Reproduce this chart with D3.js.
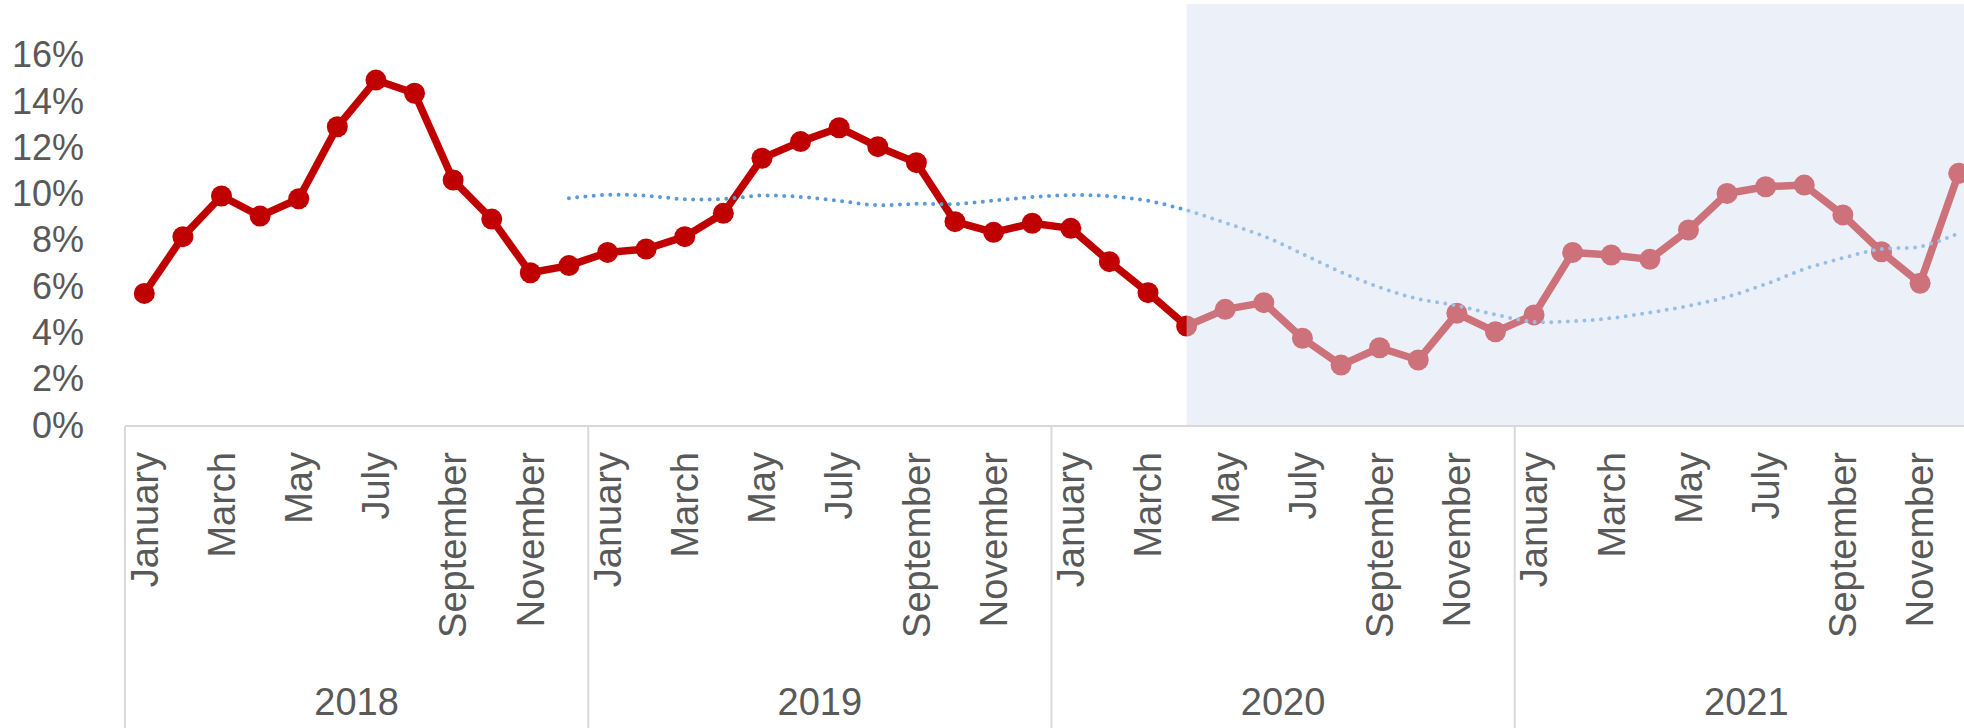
<!DOCTYPE html>
<html>
<head>
<meta charset="utf-8">
<script src="https://cdn.jsdelivr.net/npm/d3@7"></script>
<style>
  body { margin: 0; background: #fff; }
  svg text { font-family: "Liberation Sans", Arial, sans-serif; fill: #595959; }
</style>
</head>
<body>
<script>
// data
var years = ["2018", "2019", "2020", "2021"];
var monthNames = ["January", "February", "March", "April", "May", "June",
    "July", "August", "September", "October", "November", "December"];

var values2018 = [5.71, 8.16, 9.92, 9.05, 9.80, 12.91, 14.93, 14.36, 10.61, 8.92, 6.60, 6.91];
var values2019 = [7.48, 7.63, 8.16, 9.17, 11.55, 12.27, 12.87, 12.05, 11.36, 8.81, 8.35, 8.74];
var values2020 = [8.52, 7.08, 5.74, 4.30, 5.02, 5.31, 3.77, 2.61, 3.36, 2.83, 4.85, 4.05];
var values2021 = [4.78, 7.48, 7.37, 7.18, 8.45, 10.03, 10.32, 10.39, 9.10, 7.51, 6.15, 10.90];

// dotted trend, starts at December 2018
var trendStart = 11;
var trendValues = [9.82, 9.97, 9.93, 9.78, 9.79, 9.94, 9.88, 9.71, 9.52, 9.58, 9.57, 9.72,
    9.87, 9.96, 9.91, 9.71, 9.30, 8.76, 8.18, 7.42, 6.63, 5.97, 5.47, 5.18,
    4.79, 4.48, 4.51, 4.64, 4.88, 5.17, 5.56, 6.11, 6.76, 7.24, 7.63, 7.73, 8.31];

var yTicks = [0, 2, 4, 6, 8, 10, 12, 14, 16];
var shadeFrom = "2020-3"; // April 2020 onwards

var width = 1964, height = 728;
var plot = { left: 125, right: 1978, top: 4, bottom: 426 };

var data = [];
[values2018, values2019, values2020, values2021].forEach(function (vals, yi) {
    vals.forEach(function (v, m) {
        data.push({ key: years[yi] + "-" + m, year: years[yi], month: m, value: v / 100 });
    });
});

var svg = d3.select("body").append("svg")
    .attr("width", width)
    .attr("height", height);

var x = d3.scaleBand()
    .domain(data.map(d => d.key))
    .range([plot.left, plot.right])
    .padding(0);

var y = d3.scaleLinear()
    .domain([0, 0.16])
    .range([425.5, 55.3]);

var cx = d => x(d.key) + x.bandwidth() / 2;

// y axis labels only
var yAxis = svg.append("g")
    .attr("transform", "translate(" + plot.left + ",0)")
    .call(d3.axisLeft(y)
        .tickValues(yTicks.map(t => t / 100))
        .tickFormat(d3.format(".0%"))
        .tickSize(0)
        .tickPadding(41));
yAxis.select(".domain").remove();
yAxis.selectAll("text")
    .style("font-size", "36px")
    .style("font-family", "'Liberation Sans', Arial, sans-serif")
    .attr("fill", "#595959");

// category axis: baseline + year separators
svg.append("line")
    .attr("x1", plot.left).attr("x2", width)
    .attr("y1", plot.bottom).attr("y2", plot.bottom)
    .attr("stroke", "#d9d9d9").attr("stroke-width", 2);

svg.append("g").selectAll("line")
    .data(years)
    .join("line")
    .attr("x1", d => x(d + "-0")).attr("x2", d => x(d + "-0"))
    .attr("y1", plot.bottom).attr("y2", height)
    .attr("stroke", "#d9d9d9").attr("stroke-width", 2);

svg.append("g").selectAll("text")
    .data(data.filter(d => d.month % 2 == 0))
    .join("text")
    .attr("transform", d => "translate(" + cx(d) + ",452) rotate(-90)")
    .attr("text-anchor", "end")
    .attr("dy", "0.35em")
    .style("font-size", "38px")
    .text(d => monthNames[d.month]);

svg.append("g").selectAll("text")
    .data(years)
    .join("text")
    .attr("x", d => x(d + "-0") + x.bandwidth() * 6)
    .attr("y", 715)
    .attr("text-anchor", "middle")
    .style("font-size", "38px")
    .text(d => d);

// main series
var line = d3.line()
    .x(cx)
    .y(d => y(d.value));

svg.append("path")
    .datum(data)
    .attr("d", line)
    .attr("fill", "none")
    .attr("stroke", "#c00000")
    .attr("stroke-width", 7.5)
    .attr("stroke-linejoin", "round");

svg.append("g").selectAll("circle")
    .data(data)
    .join("circle")
    .attr("cx", cx)
    .attr("cy", d => y(d.value))
    .attr("r", 10.5)
    .attr("fill", "#c00000");

// trend (smoothed, dotted)
var trendData = trendValues.map((v, i) => ({ key: data[trendStart + i].key, value: v / 100 }));

svg.append("path")
    .datum(trendData)
    .attr("d", d3.line().x(cx).y(d => y(d.value)).curve(d3.curveCatmullRom.alpha(0.5)))
    .attr("fill", "none")
    .attr("stroke", "#5b9bd5")
    .attr("stroke-width", 4)
    .attr("stroke-linecap", "round")
    .attr("stroke-dasharray", "0 8.3");

// translucent highlight over the later period
var shadeX = x(shadeFrom) + x.bandwidth() / 2;
svg.append("rect")
    .attr("x", shadeX)
    .attr("y", plot.top)
    .attr("width", width - shadeX)
    .attr("height", plot.bottom - 1 - plot.top)
    .attr("fill", "#dae3f3")
    .attr("opacity", 0.5);
</script>
</body>
</html>
